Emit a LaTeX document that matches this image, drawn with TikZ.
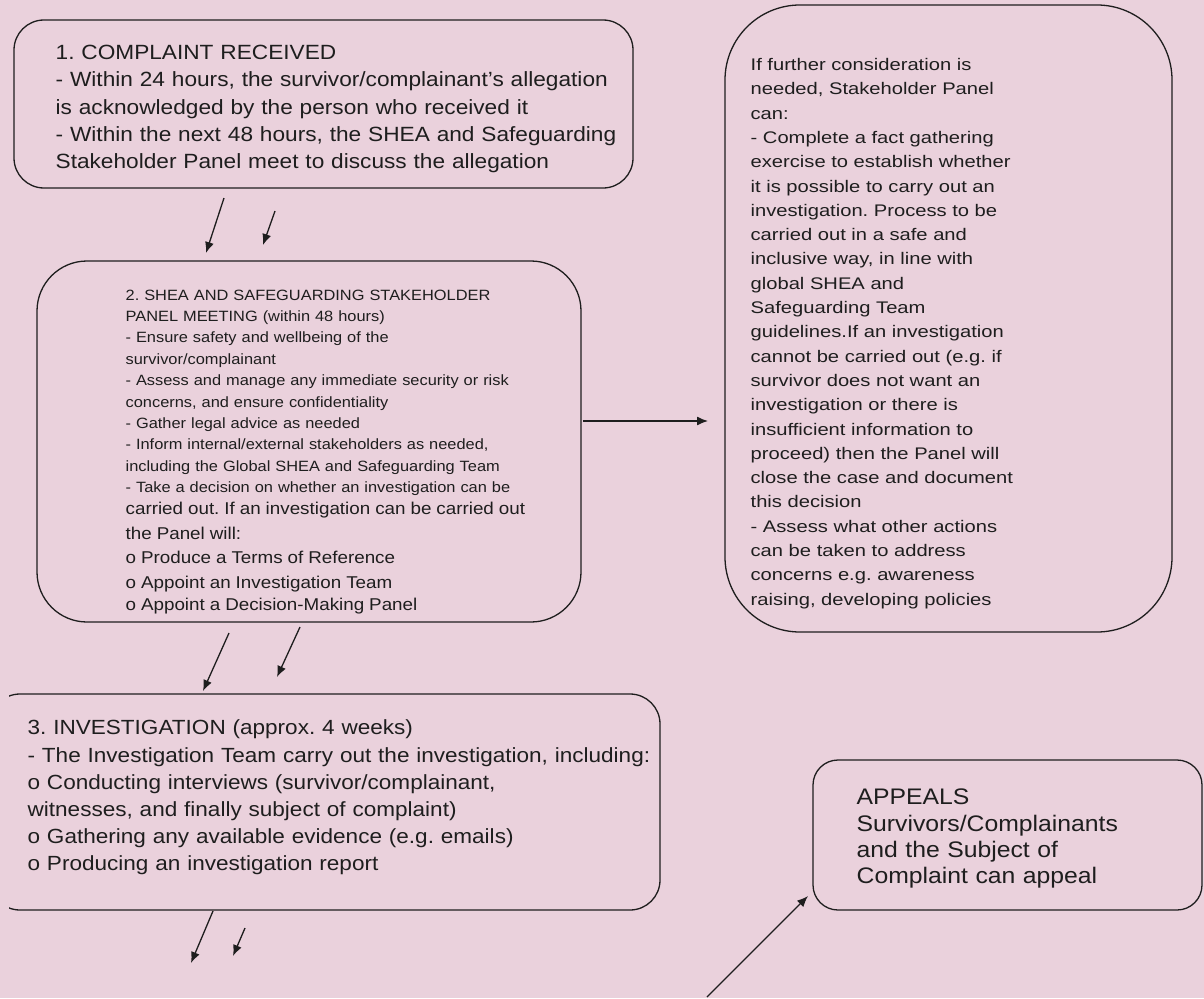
\documentclass[tikz,border=0pt]{standalone}
\usepackage{fontspec}
\setmainfont{Liberation Sans}[FakeStretch=1.1]
\newfontfamily\panelfont{Liberation Sans}[FakeStretch=1.2]
\usepackage{tikz}
\usetikzlibrary{arrows.meta}
\usetikzlibrary{positioning}
\definecolor{bgpink}{RGB}{234,209,220}
\definecolor{ink}{RGB}{30,30,30}
\frenchspacing

\begin{document}
\begin{tikzpicture}[x=1pt, y=-1pt, line width=1.3pt,
    stage/.style={draw=ink, inner sep=0pt, rounded corners=30pt},
    stagetxt/.style={anchor=north west, inner sep=0pt, align=left, text=ink},
    flow/.style={-{Latex[length=11pt,width=9pt]}, draw=ink, line width=1.3pt}]
    % page and background
    \useasboundingbox (0,0) rectangle (1204,998);
    \fill[bgpink] (0,0) rectangle (1204,998);

    % 1. complaint received
    \node[stage, minimum width=619pt, minimum height=168pt] (complaint) at (323.5,104) {};
    \node[stagetxt, text width=600pt, font=\fontsize{20.6}{27.3}\selectfont] (complainttxt) at (55,44.6)
        {1. COMPLAINT RECEIVED\\
        - Within 24 hours, the survivor/complainant’s allegation\\
        is acknowledged by the person who received it\\
        - Within the next 48 hours, the SHEA and Safeguarding\\
        Stakeholder Panel meet to discuss the allegation};

    % 2. panel meeting
    \node[stage, rounded corners=50pt, minimum width=544pt, minimum height=361pt] (meeting) at (309,441.5) {};
    \node[stagetxt, text width=450pt, font=\fontsize{14.9}{21.4}\selectfont] (meetingtxt) at (125,289)
        {2. SHEA AND SAFEGUARDING STAKEHOLDER\\
        PANEL MEETING (within 48 hours)\\
        - Ensure safety and wellbeing of the\\
        survivor/complainant\\
        - Assess and manage any immediate security or risk\\
        concerns, and ensure confidentiality\\
        - Gather legal advice as needed\\
        - Inform internal/external stakeholders as needed,\\
        including the Global SHEA and Safeguarding Team\\
        - Take a decision on whether an investigation can be\\[-3.2pt]
        \fontsize{17.1}{24.8}\selectfont carried out. If an investigation can be carried out\\
        the Panel will:\\
        o Produce a Terms of Reference\\
        o Appoint an Investigation Team\\
        o Appoint a Decision-Making Panel};

    % further consideration
    \node[stage, rounded corners=75pt, minimum width=447pt, minimum height=627pt] (further) at (948.5,318.5) {};
    \node[stagetxt, text width=300pt, font=\panelfont\fontsize{16.8}{24.3}\selectfont] (furthertxt) at (750,57.7)
        {If further consideration is\\
        needed, Stakeholder Panel\\
        can:\\
        - Complete a fact gathering\\
        exercise to establish whether\\
        it is possible to carry out an\\
        investigation. Process to be\\
        carried out in a safe and\\
        inclusive way, in line with\\
        global SHEA and\\
        Safeguarding Team\\
        guidelines.If an investigation\\
        cannot be carried out (e.g. if\\
        survivor does not want an\\
        investigation or there is\\
        insufficient information to\\
        proceed) then the Panel will\\
        close the case and document\\
        this decision\\
        - Assess what other actions\\
        can be taken to address\\
        concerns e.g. awareness\\
        raising, developing policies};

    % 3. investigation
    \begin{scope}
        \clip (9,0) rectangle (1204,998);
        \node[stage, minimum width=670pt, minimum height=216pt] (investigation) at (325,802) {};
    \end{scope}
    \node[stagetxt, text width=640pt, font=\fontsize{20.5}{27.2}\selectfont] (investigationtxt) at (27,719.3)
        {3. INVESTIGATION (approx. 4 weeks)\\
        - The Investigation Team carry out the investigation, including:\\
        o Conducting interviews (survivor/complainant,\\
        witnesses, and finally subject of complaint)\\
        o Gathering any available evidence (e.g. emails)\\
        o Producing an investigation report};

    % appeals
    \node[stage, rounded corners=25pt, minimum width=389pt, minimum height=150pt] (appeals) at (1007.5,835) {};
    \node[stagetxt, text width=320pt, font=\fontsize{22.5}{26.3}\selectfont] (appealstxt) at (856,788.6)
        {APPEALS\\
        Survivors/Complainants\\
        and the Subject of\\
        Complaint can appeal};

    % arrow ends
    \coordinate (c1a) at (224,198);  \coordinate (c1b) at (206,253);
    \coordinate (c2a) at (275,211);  \coordinate (c2b) at (263,245);
    \coordinate (m1a) at (229,633);  \coordinate (m1b) at (203,691);
    \coordinate (m2a) at (300,627);  \coordinate (m2b) at (277,677);
    \coordinate (i1a) at (213,911);  \coordinate (i1b) at (191,963);
    \coordinate (i2a) at (245,928);  \coordinate (i2b) at (233,956);
    \coordinate (fa) at (583,421);   \coordinate (fb) at (708,421);
    \coordinate (aa) at (707,997);   \coordinate (ab) at (808,896);

    \draw[flow] (c1a) -- (c1b);
    \draw[flow] (c2a) -- (c2b);
    \draw[flow] (m1a) -- (m1b);
    \draw[flow] (m2a) -- (m2b);
    \draw[flow] (i1a) -- (i1b);
    \draw[flow] (i2a) -- (i2b);
    \draw[flow] (fa) -- (fb);
    \draw[flow] (aa) -- (ab);
\end{tikzpicture}
\end{document}
